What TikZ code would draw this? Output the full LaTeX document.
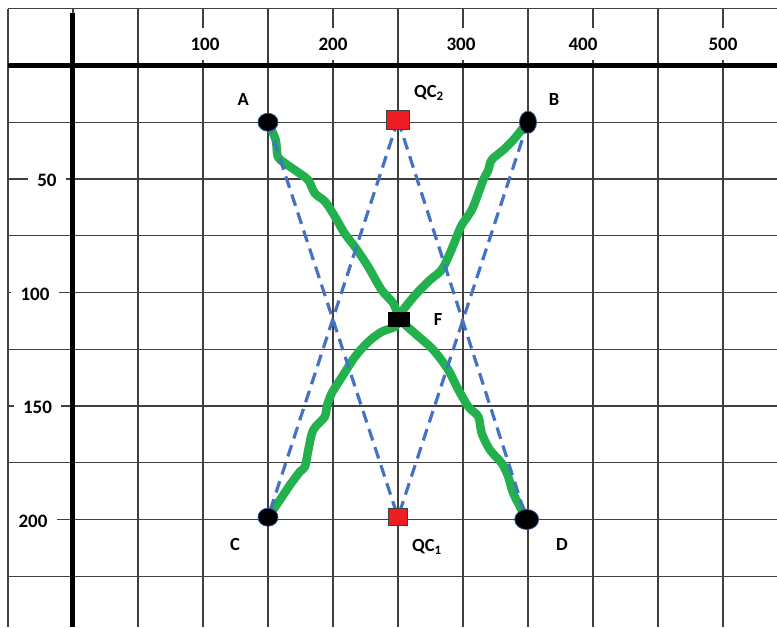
\documentclass[tikz,border=0pt]{standalone}
\usepackage{fontspec}
\setmainfont{Carlito}
\usetikzlibrary{positioning,shapes.geometric,backgrounds}
\definecolor{pathgreen}{HTML}{22B14C}
\definecolor{linkblue}{HTML}{4472C4}
\definecolor{rimblue}{HTML}{2F528F}
\definecolor{qcred}{HTML}{EE1D23}
\definecolor{gridgray}{HTML}{3F3F3F}

\begin{document}
\begin{tikzpicture}[x=1.3pt, y=-2.27pt,
        gridline/.style={gridgray, line width=1.2pt},
        axisline/.style={black, line width=5pt},
        ticklabel/.style={font=\fontsize{19}{22}\selectfont\bfseries,
          fill=white, inner sep=9.5pt},
        ptlabel/.style={font=\fontsize{18.5}{21}\selectfont\bfseries,
          inner sep=0pt},
        station/.style={ellipse, draw=rimblue, fill=black, line
          width=0.8pt, inner sep=0pt},
        qcbox/.style={rectangle, draw=gridgray, fill=qcred, line
          width=0.8pt, inner sep=0pt},
        hub/.style={rectangle, fill=black, inner sep=0pt, minimum
          width=22pt, minimum height=15pt},
        route/.style={pathgreen, line width=8.5pt, line cap=round, line
          join=round},
        link/.style={linkblue, line width=3.2pt, dash pattern=on 12pt off 7pt},
      ]
      \useasboundingbox (-56.15,-28.85) rectangle (541.54,247.36);

      \node[station, minimum width=20pt, minimum height=18pt] (A) at (150,25) {};
      \node[station, minimum width=17pt, minimum height=22pt] (B) at (350,25) {};
      \node[station, minimum width=20pt, minimum height=18pt] (C) at (150,199) {};
      \node[station, minimum width=24pt, minimum height=20pt] (D) at (349,200) {};
      \node[qcbox, minimum width=23pt, minimum height=19pt] (QC2) at (250,24) {};
      \node[qcbox, minimum width=19pt, minimum height=17pt] (QC1) at (250,199) {};
      \node[hub] (F) at (251,112) {};

      \node[ptlabel] (labA) at (131,15.2) {A};
      \node[ptlabel] (labB) at (370,15.2) {B};
      \node[ptlabel] (labC) at (124.6,211.2) {C};
      \node[ptlabel] (labD) at (376.2,211.2) {D};
      \node[ptlabel] (labQC2) at (273.8,12.1) {QC\textsubscript{2}};
      \node[ptlabel] (labQC1) at (272.3,212.1) {QC\textsubscript{1}};
      \node[ptlabel] (labF) at (280.8,112.1) {F};

      \begin{scope}[on background layer]
        \foreach \gx in {-50,0,...,500}
          \draw[gridline] (\gx,-25) -- (\gx,247.4);
        \foreach \gy in {-25,0,...,225}
          \draw[gridline] (-50,\gy) -- (541.6,\gy);

        \foreach \v/\p in {100/101.5, 200/200, 300/298.5, 400/392.3, 500/500}
          \node[ticklabel] (xtick\v) at (\p,-9.5) {\v};
        \foreach \v/\p in {50/-20, 100/-29.2, 150/-27.3, 200/-30.8}
          \node[ticklabel] (ytick\v) at (\p,\v+0.8) {\v};

        \draw[axisline] (-50,0) -- (541.6,0);
        \draw[axisline] (0,-23.1) -- (0,247.4);

        \draw[route] plot[smooth, tension=0.5] coordinates {(A.center)
          (155.9,32.8) (157.5,40.2) (163,43) (173,47) (181,50.5)
          (186,56.3) (194,60) (201.5,66.6) (209,74) (217,80) (227,88.6)
          (237.5,99) (246.4,104.8) (F.center)};
        \draw[route] plot[smooth, tension=0.5] coordinates {(B.center)
          (345,28.4) (338.7,32.8) (331,37.2) (322,41.6) (319.5,46)
          (315.6,50.4) (311.8,56.3) (306.7,63.7) (299,70.3) (295.2,75.4)
          (290,82.7) (283.6,90) (274.6,94.5) (264.4,100.4) (254,107.7)
          (F.center)};
        \draw[route] plot[smooth, tension=0.5] coordinates {(C.center)
          (159.2,191.4) (166.9,184.8) (174.6,178.9) (178.5,176.7)
          (181,169.4) (184.8,160.6) (193.8,154.7) (195.2,150.3)
          (199,144.4) (207.9,136.3) (216.9,128.3) (227.2,121.7)
          (237.5,117.3) (247.7,115.1) (F.center)};
        \draw[route] plot[smooth, tension=0.5] coordinates {(F.center)
          (264.4,118.7) (277.2,125.3) (288.7,134.1) (295.2,141.5)
          (304.1,150.3) (311.8,154.7) (314.4,162) (320.8,169.4)
          (329.8,175.2) (334.8,181.1) (338.7,188.5) (D.center)};

        \draw[link] (A.center) -- (QC1.center);
        \draw[link] (B.center) -- (QC1.center);
        \draw[link] (QC2.center) -- (C.center);
        \draw[link] (QC2.center) -- (D.center);
      \end{scope}
    \end{tikzpicture}
\end{document}
